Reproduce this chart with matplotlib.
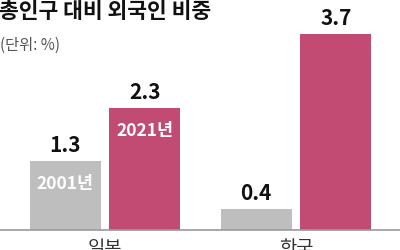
import matplotlib
matplotlib.use("Agg")
import matplotlib.pyplot as plt
import numpy as np

plt.rcParams['font.family'] = ['Noto Sans CJK KR', 'DejaVu Sans']

categories = ['일본', '한국']
years = ['2001년', '2021년']
values_2001 = [1.3, 0.4]
values_2021 = [2.3, 3.7]
value_labels_2001 = ['1.3', '0.4']
value_labels_2021 = ['2.3', '3.7']

title = '총인구 대비 외국인 비중'
unit = '(단위: %)'

c_gray = '#BEBEBE'
c_pink = '#C24B74'

fig = plt.figure(figsize=(4, 2.5), dpi=100)
fig.patch.set_facecolor('white')
ax = fig.add_axes([0, 20/250, 1, 230/250])
x = np.arange(len(categories))
w = 0.372
off = 0.209
b1 = ax.bar(x - off, values_2001, w, color=c_gray, zorder=2)
b2 = ax.bar(x + off, values_2021, w, color=c_pink, zorder=2)
ax.set_xlim(-0.55, 1.545)
ax.set_ylim(0, 230/53)
for s in ax.spines.values():
    s.set_visible(False)
ax.set_xticks([])
ax.set_yticks([])
ax.axhline(0, color='#999999', lw=1.2, zorder=3, clip_on=False)

for bars, labs in [(b1, value_labels_2001), (b2, value_labels_2021)]:
    for r, t in zip(bars, labs):
        ax.annotate(t, (r.get_x() + r.get_width()/2, r.get_height()),
                    xytext=(0, 3.5), textcoords='offset points',
                    ha='center', va='bottom', fontsize=15, fontweight='bold',
                    color='#111111')

# year labels inside Japan bars
for bars, yr in [(b1, years[0]), (b2, years[1])]:
    r = bars[0]
    ax.annotate(yr, (r.get_x() + r.get_width()/2, r.get_height()),
                xytext=(0, -16.5), textcoords='offset points',
                ha='center', va='center', fontsize=12.5, fontweight='bold',
                color='white')

for xi, c in zip(x, categories):
    ax.annotate(c, (xi, 0), xytext=(0, -5.5), textcoords='offset points',
                ha='center', va='top', fontsize=13.5, color='#333333',
                annotation_clip=False)

fig.text(-0.003, 1 - 0.5/250, title, ha='left', va='top', fontsize=15.5,
         fontweight='bold', color='#111111')
fig.text(0, 1 - 37/250, unit, ha='left', va='top', fontsize=11,
         color='#555555')

fig.savefig('out.png', dpi=100, facecolor='white')
